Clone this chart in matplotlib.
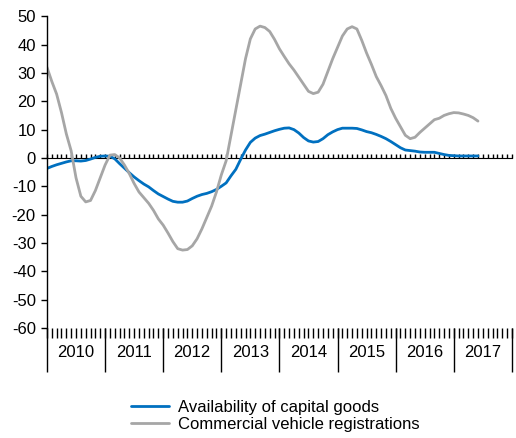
import numpy as np
import matplotlib.pyplot as plt

plt.rcParams['font.family'] = ['Liberation Sans', 'DejaVu Sans']
plt.rcParams['axes.unicode_minus'] = False

years = ['2010', '2011', '2012', '2013', '2014', '2015', '2016', '2017']

# monthly values, Jan 2010 onwards
capital_goods = [
    -3.7, -3.0, -2.4, -1.9, -1.4, -1.0, -1.0, -1.1, -0.9, -0.4, 0.2, 0.6,
    0.7, 0.6, -0.3, -2.0, -3.6, -5.2, -6.7, -8.0, -9.2, -10.2, -11.5, -12.7,
    -13.6, -14.5, -15.3, -15.6, -15.6, -15.2, -14.3, -13.5, -12.9, -12.5, -11.9, -11.1,
    -10.0, -8.8, -6.3, -4.0, -0.5, 2.8, 5.5, 7.0, 7.9, 8.4, 9.0, 9.6,
    10.1, 10.5, 10.6, 10.0, 8.8, 7.2, 6.0, 5.6, 5.8, 6.8, 8.2, 9.2,
    10.0, 10.5, 10.5, 10.5, 10.4, 9.9, 9.3, 8.9, 8.3, 7.6, 6.8, 5.8,
    4.7, 3.6, 2.8, 2.6, 2.4, 2.1, 2.0, 2.0, 2.0, 1.6, 1.2, 0.9,
    0.8, 0.7, 0.7, 0.7, 0.7, 0.7,
]
vehicle_regs = [
    32.0, 27.0, 22.5, 16.0, 8.5, 2.5, -7.0, -13.5, -15.5, -15.0, -11.5, -7.0,
    -2.5, 1.0, 1.2, 0.0, -2.5, -5.5, -9.0, -12.0, -14.0, -16.0, -18.5, -21.5,
    -23.7, -26.5, -29.5, -32.0, -32.5, -32.3, -31.0, -28.5, -25.0, -21.0, -17.0, -12.0,
    -6.0, -1.0, 8.0, 17.0, 26.0, 35.0, 42.0, 45.5, 46.5, 46.0, 44.6, 41.8,
    38.5, 35.8, 33.2, 31.0, 28.5, 26.0, 23.5, 22.7, 23.2, 26.0, 30.5, 35.0,
    39.0, 43.0, 45.5, 46.3, 45.5, 41.5, 37.0, 33.0, 28.7, 25.5, 22.0, 17.5,
    14.0, 11.0, 8.0, 6.8, 7.3, 9.0, 10.5, 12.0, 13.5, 14.0, 15.0, 15.6,
    16.0, 15.9, 15.5, 15.0, 14.2, 13.0,
]

n_months = 12 * len(years)
fs = 12

fig = plt.figure(figsize=(5.16, 4.38), dpi=100)
ax = fig.add_axes([0.091, 0.251, 0.901, 0.712])

ax.plot(np.arange(len(capital_goods)), capital_goods, color='#0070C0', lw=2.0,
        label='Availability of capital goods', solid_capstyle='round')
ax.plot(np.arange(len(vehicle_regs)), vehicle_regs, color='#A6A6A6', lw=2.0,
        label='Commercial vehicle registrations', solid_capstyle='round')

ax.set_xlim(0, n_months)
ax.set_ylim(-60, 50)
ax.set_yticks(np.arange(-60, 51, 10))
ax.tick_params(axis='y', direction='out', length=4, width=1, labelsize=fs, pad=4)

for s in ['top', 'right', 'bottom']:
    ax.spines[s].set_visible(False)
ax.spines['left'].set_linewidth(1)

# monthly ticks along the bottom
ax.set_xticks(np.arange(0, n_months + 1))
ax.set_xticklabels([])
ax.tick_params(axis='x', direction='out', length=7, width=1)

# year separators and labels
sec = ax.secondary_xaxis('bottom')
sec.spines['bottom'].set_visible(False)
sec.set_xticks(np.arange(0, n_months + 1, 12))
sec.set_xticklabels([])
sec.set_xticks(np.arange(6, n_months, 12), minor=True)
sec.set_xticklabels(years, minor=True)
sec.tick_params(axis='x', which='major', length=32, width=1)
sec.tick_params(axis='x', which='minor', length=0, pad=12, labelsize=fs)

# zero line with small month ticks
zero = ax.secondary_xaxis(60 / 110)
zero.spines['bottom'].set_linewidth(1.2)
zero.set_xticks(np.arange(0, n_months + 1))
zero.set_xticklabels([])
zero.tick_params(axis='x', direction='out', length=3, width=1)

fig.legend(loc='center', bbox_to_anchor=(0.533, 0.05), frameon=False,
           fontsize=fs, handlelength=2.3, handletextpad=0.5, labelspacing=0.12)

fig.savefig('out.png', dpi=100)
